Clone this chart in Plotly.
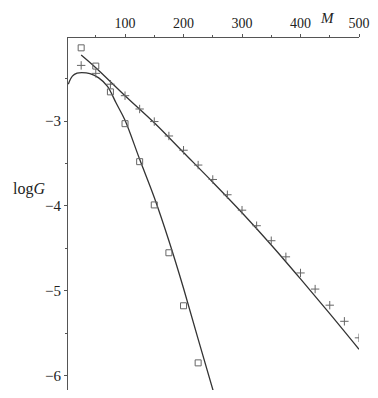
import plotly.graph_objects as go

# Square data points
sq_M = [25, 50, 75, 100, 125, 150, 175, 200, 225]
sq_G = [-2.136, -2.351, -2.655, -3.03, -3.478, -3.988, -4.552, -5.177, -5.85]

# Plus data points
pl_M = [25, 50, 75, 100, 125, 150, 175, 200, 225, 250,
        275, 300, 325, 350, 375, 400, 425, 450, 475, 500]
pl_G = [-2.343, -2.437, -2.565, -2.70, -2.857, -3.005, -3.175, -3.343, -3.518, -3.688,
        -3.868, -4.05, -4.233, -4.41, -4.60, -4.79, -4.98, -5.17, -5.36, -5.555]

# Fitted curve through squares
fit_sq_M = [3, 10, 18, 26, 40, 55, 70, 85, 100, 125, 150, 175, 200, 225, 252]
fit_sq_G = [-2.565, -2.47, -2.435, -2.428, -2.44, -2.49, -2.59, -2.79, -2.99,
            -3.45, -3.90, -4.41, -4.97, -5.57, -6.21]

# Fitted line through plus points
fit_pl_M = [25, 50, 100, 150, 200, 250, 300, 350, 400, 450, 500]
fit_pl_G = [-2.22, -2.37, -2.70, -3.02, -3.37, -3.72, -4.08, -4.46, -4.86, -5.27, -5.69]

x_ticks = [100, 200, 300, 400, 500]
y_ticks = [-3, -4, -5, -6]
y_ticktext = ["\u22123", "\u22124", "\u22125", "\u22126"]

FONT = "Liberation Serif, Times New Roman, serif"
LINE = "#333333"
MARK = "#666666"

fig = go.Figure()
fig.add_trace(go.Scatter(x=fit_sq_M, y=fit_sq_G, mode="lines",
                         line=dict(color=LINE, width=1.3, shape="spline"),
                         showlegend=False, hoverinfo="skip"))
fig.add_trace(go.Scatter(x=fit_pl_M, y=fit_pl_G, mode="lines",
                         line=dict(color=LINE, width=1.3, shape="spline"),
                         showlegend=False, hoverinfo="skip"))
fig.add_trace(go.Scatter(x=sq_M, y=sq_G, mode="markers",
                         marker=dict(symbol="square-open", size=6, color=MARK,
                                     line=dict(width=1, color=MARK)),
                         showlegend=False))
fig.add_trace(go.Scatter(x=pl_M, y=pl_G, mode="markers",
                         marker=dict(symbol="cross-thin-open", size=6, color=MARK,
                                     line=dict(width=1, color=MARK)),
                         showlegend=False))

fig.update_layout(
    width=370, height=390,
    margin=dict(l=60, r=19, t=26, b=8),
    paper_bgcolor="white", plot_bgcolor="white",
    font=dict(family=FONT, size=14, color="#222222"),
    xaxis=dict(side="top", range=[2.5, 500], tickvals=x_ticks,
               showline=True, linecolor="#555555", linewidth=1,
               ticks="outside", ticklen=3, tickcolor="#555555",
               minor=dict(dtick=50, tick0=0, ticks="outside", ticklen=2, tickcolor="#555555"),
               showgrid=False, zeroline=False, tickfont=dict(family=FONT, size=14)),
    yaxis=dict(range=[-6.17, -2.02], tickvals=y_ticks, ticktext=y_ticktext,
               showline=True, linecolor="#555555", linewidth=1,
               ticks="outside", ticklen=3, tickcolor="#555555",
               minor=dict(dtick=0.5, tick0=0, ticks="outside", ticklen=2, tickcolor="#555555"),
               showgrid=False, zeroline=False, tickfont=dict(family=FONT, size=15)),
    annotations=[
        dict(text="<i>M</i>", x=446, xref="x", y=1.0, yref="paper", yshift=29,
             showarrow=False, font=dict(family=FONT, size=15, color="#222222"),
             xanchor="center", yanchor="top", borderpad=0),
        dict(text="log<i>G</i>", x=-0.134, xref="paper", y=0.57, yref="paper",
             showarrow=False, font=dict(family=FONT, size=16, color="#222222"),
             xanchor="center", yanchor="middle"),
    ],
)

fig.write_html("out.html")
